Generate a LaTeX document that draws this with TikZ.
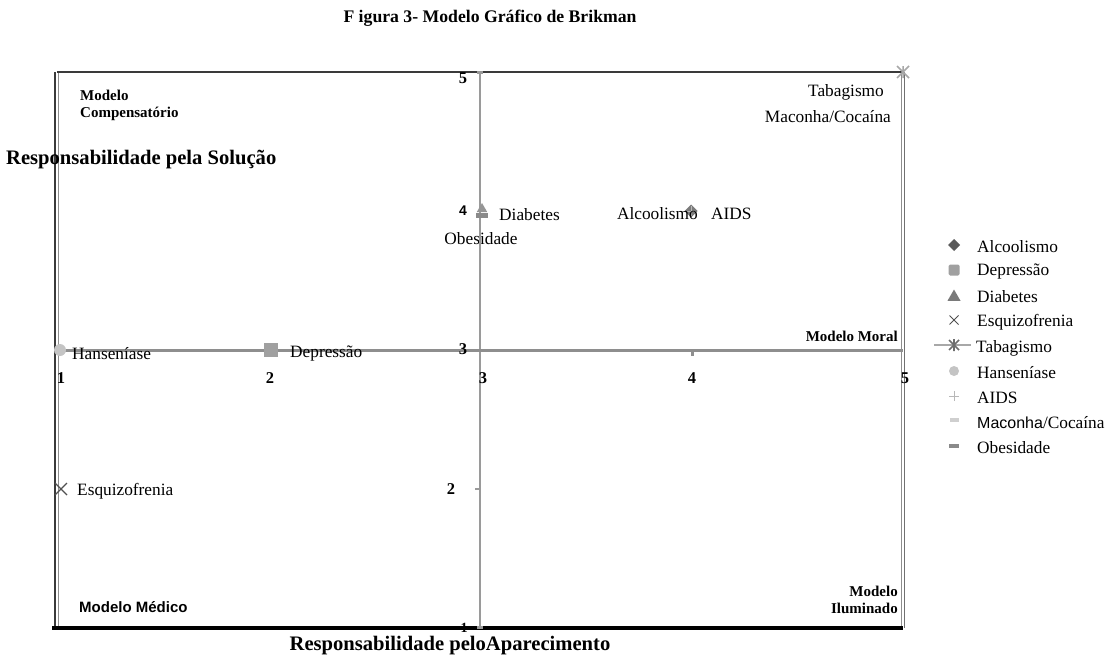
\documentclass[tikz,border=0pt]{standalone}
\usepackage{fontspec}
\setmainfont{Liberation Serif}
\newfontfamily\arialf{Liberation Sans}
\usetikzlibrary{shapes.geometric,shapes.misc}
\definecolor{axgray}{HTML}{8E8E8E}
\definecolor{vgray}{HTML}{9A9A9A}
\definecolor{frdark}{HTML}{3A3A3A}
\definecolor{cAlc}{HTML}{5A5A5A}
\definecolor{cDep}{HTML}{A0A0A0}
\definecolor{cDia}{HTML}{7A7A7A}
\definecolor{cEsq}{HTML}{505050}
\definecolor{cTab}{HTML}{6E6E6E}
\definecolor{cTabL}{HTML}{A8A8A8}
\definecolor{cHan}{HTML}{C4C4C4}
\definecolor{cAids}{HTML}{B8B8B8}
\definecolor{cMac}{HTML}{CFCFCF}
\definecolor{cObe}{HTML}{8A8A8A}
\tikzset{
  lab/.style={font=\fontsize{17.3}{19}\selectfont, inner sep=0pt},
  num/.style={font=\fontsize{16.5}{18}\selectfont\bfseries, inner sep=0pt},
  corner/.style={font=\fontsize{15}{16.5}\selectfont\bfseries, inner sep=0pt, align=left},
  axtitle/.style={font=\fontsize{20.6}{22}\selectfont\bfseries, inner sep=0pt},
  mk/.style={inner sep=0pt, outer sep=0pt},
}
\begin{document}
\begin{tikzpicture}[x=1pt,y=-1pt]
\useasboundingbox (0,0) rectangle (1115,657);
% frame corners
\coordinate (TL) at (57,72);
\coordinate (TR) at (903,72);
\coordinate (BL) at (57,628);
\coordinate (BR) at (903,628);
\coordinate (BLx) at (52,628);
% axes of the chart
\coordinate (H1) at (57,350);
\coordinate (H5) at (903,350);
\coordinate (V5) at (480,72);
\coordinate (V1) at (480,628);
% frame
\draw[frdark, line width=1.1pt] ([xshift=-2]TL) -- ([xshift=-2]BL);
\draw[axgray, line width=1.1pt] ([xshift=1.5]TL) -- ([xshift=1.5]BL);
\draw[axgray, line width=1.1pt] ([xshift=-1.5]TR) -- ([xshift=-1.5]BR);
\draw[axgray!80!black, line width=1.1pt] ([xshift=1.5]TR) -- ([xshift=1.5]BR);
\draw[frdark, line width=2pt] (TL) -- (TR);
\draw[black, line width=3.2pt] (BLx) -- (BR);
% axes
\draw[vgray, line width=1.1pt] (V5) -- (V1);
\draw[axgray, line width=3pt] (H1) -- (H5);
\coordinate (T4) at (692,350);
\draw[axgray, line width=3pt] (T4) -- ++(0,6);
\coordinate (T2) at (480,489);
\draw[vgray, line width=2pt] (T2) -- ++(-5,0);
\fill[vgray] ([shift={(-3,-1.5)}]V5) rectangle ([shift={(3,1.5)}]V5);
\fill[vgray] ([shift={(-3,-2)}]V1) rectangle ([shift={(3,1)}]V1);
% title
\node[font=\fontsize{17.7}{20}\selectfont\bfseries, inner sep=0pt] (title) at (490,18) {F igura 3- Modelo Gráfico de Brikman};
% axis titles
\node[axtitle, anchor=west] (ytitle) at (6,160) {Responsabilidade pela Solução};
\node[axtitle] (xtitle) at (450,646) {Responsabilidade peloAparecimento};
% corner labels
\node[corner, anchor=north west] (mComp) at (80,90) {Modelo\\Compensatório};
\node[corner, anchor=east] (mMoral) at (898,336) {Modelo Moral};
\node[corner, anchor=west, font=\fontsize{15}{16}\selectfont\bfseries\arialf] (mMed) at (79,607) {Modelo Médico};
\node[corner, anchor=north east, align=right] (mIlu) at (898,586) {Modelo\\Iluminado};
% vertical axis numbers
\node[num] (y5) at (463,78) {5};
\node[num, font=\fontsize{14}{16}\selectfont\bfseries\arialf] (y4) at (463,211) {4};
\node[num] (y3) at (463,349) {3};
\node[num] (y2) at (451,489) {2};
\node[num, font=\fontsize{14}{16}\selectfont\bfseries] (y1) at (464,628) {1};
% horizontal axis numbers
\node[num] (x1) at (61,378) {1};
\node[num] (x2) at (270,378) {2};
\node[num] (x3) at (483,378) {3};
\node[num] (x4) at (692,378) {4};
\node[num] (x5) at (905,378) {5};
% data markers
\node[mk, circle, fill=cHan, minimum size=12pt] (pHan) at (60,350) {};
\node[mk, rectangle, fill=cDep, minimum size=14pt] (pDep) at (271,350) {};
\node[mk, regular polygon, regular polygon sides=3, fill=cDia!80, minimum size=12pt] (pDia) at (482,209) {};
\node[mk, rectangle, fill=cObe, minimum width=12pt, minimum height=5pt] (pObe) at (482,215) {};
\node[mk, diamond, fill=cAlc!80, minimum size=13pt] (pAlc) at (691,211) {};
\draw[cAids, line width=1pt] ([xshift=-5]pAlc.center) -- ([xshift=5]pAlc.center) ([yshift=-5]pAlc.center) -- ([yshift=5]pAlc.center);
\node[mk, cross out, draw=cEsq, line width=1.3pt, minimum size=12pt] (pEsq) at (61,489) {};
\coordinate (pTab) at (903,72);
\draw[cTabL, line width=1.5pt] ([shift={(-6,-6)}]pTab) -- ([shift={(6,6)}]pTab) ([shift={(-6,6)}]pTab) -- ([shift={(6,-6)}]pTab) ([shift={(0,-6)}]pTab) -- ([shift={(0,6)}]pTab);
% data labels
\node[lab, anchor=west] (lHan) at (72,354) {Hanseníase};
\node[lab, anchor=west] (lDep) at (290,354) {Depressão};
\node[lab, anchor=west] (lDia) at (499,215) {Diabetes};
\node[lab] (lObe) at (481,239) {Obesidade};
\node[lab, anchor=east] (lAlc) at (698,214) {Alcoolismo};
\node[lab, anchor=west] (lAids) at (711,214) {AIDS};
\node[lab, anchor=east] (lTab) at (884,92) {Tabagismo};
\node[lab, anchor=east] (lMac) at (891,117) {Maconha/Cocaína};
\node[lab, anchor=west] (lEsq) at (77,491) {Esquizofrenia};
% vertical axis drawn over Obesidade
\draw[vgray, line width=1.1pt] (480,225) -- (480,250);
% legend
\node[mk, diamond, fill=cAlc, minimum size=12pt] (gAlc) at (954,245) {};
\node[lab, anchor=west] (tAlc) at (977,247) {Alcoolismo};
\node[mk, rectangle, rounded corners=1.5pt, fill=cDep, minimum size=11pt] (gDep) at (954,270) {};
\node[lab, anchor=west] (tDep) at (977,272) {Depressão};
\node[mk, regular polygon, regular polygon sides=3, fill=cDia, minimum size=15pt] (gDia) at (954,297) {};
\node[lab, anchor=west] (tDia) at (977,297) {Diabetes};
\node[mk, cross out, draw=cEsq, line width=0.8pt, minimum size=9pt] (gEsq) at (954,320) {};
\node[lab, anchor=west] (tEsq) at (977,322) {Esquizofrenia};
\coordinate (gTab) at (954,345);
\draw[cTabL, line width=2.5pt] ([xshift=-20]gTab) -- ([xshift=17]gTab);
\draw[cTab, line width=1.6pt] ([shift={(-5,-5)}]gTab) -- ([shift={(5,5)}]gTab) ([shift={(-5,5)}]gTab) -- ([shift={(5,-5)}]gTab) ([shift={(0,-6)}]gTab) -- ([shift={(0,6)}]gTab);
\node[lab, anchor=west] (tTab) at (976,348) {Tabagismo};
\node[mk, circle, fill=cHan, minimum size=10pt] (gHan) at (954,371) {};
\node[lab, anchor=west] (tHan) at (977,373) {Hanseníase};
\coordinate (gAids) at (954,396);
\draw[cAids, line width=0.8pt] ([xshift=-5]gAids) -- ([xshift=5]gAids) ([yshift=-5]gAids) -- ([yshift=5]gAids);
\node[lab, anchor=west] (tAids) at (977,398) {AIDS};
\node[mk, rectangle, fill=cMac, minimum width=9pt, minimum height=3.5pt] (gMac) at (954,420) {};
\node[lab, anchor=west] (tMac) at (977,423) {{\arialf\fontsize{16}{18}\selectfont Maconha}/Cocaína};
\node[mk, rectangle, fill=cObe, minimum width=10pt, minimum height=3.5pt] (gObe) at (954,446) {};
\node[lab, anchor=west] (tObe) at (977,448) {Obesidade};
\end{tikzpicture}
\end{document}
